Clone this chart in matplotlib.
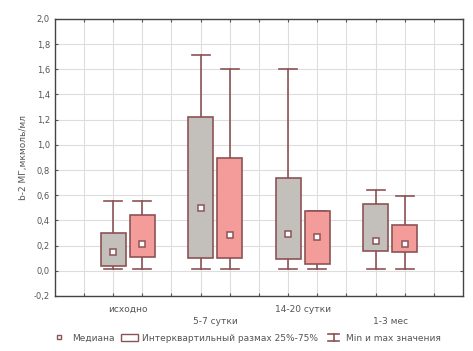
import numpy as np
import matplotlib.pyplot as plt
from matplotlib.lines import Line2D
from matplotlib.patches import Rectangle
from matplotlib.legend_handler import HandlerBase

groups = ['исходно', '5-7 сутки', '14-20 сутки', '1-3 мес']
# two boxes per group: gray then pink
box_min = [0.01, 0.01, 0.01, 0.01, 0.01, 0.01, 0.01, 0.01]
box_q1 = [0.04, 0.11, 0.10, 0.10, 0.09, 0.05, 0.16, 0.15]
box_med = [0.15, 0.215, 0.50, 0.28, 0.29, 0.27, 0.235, 0.215]
box_q3 = [0.30, 0.445, 1.225, 0.895, 0.74, 0.475, 0.53, 0.365]
box_max = [0.55, 0.55, 1.715, 1.60, 1.60, 0.475, 0.64, 0.59]

positions = [2, 3, 5, 6, 8, 9, 11, 12]
face = ['#c3c0bb', '#f49c9a'] * 4
edge = '#8c5356'
txt = '#555555'

fig = plt.figure(figsize=(4.73, 3.51), dpi=100)
ax = fig.add_axes([0.116, 0.157, 0.863, 0.789])

width = 0.85
cap = 0.62
for i, p in enumerate(positions):
    ax.plot([p, p], [box_min[i], box_q1[i]], color=edge, lw=1.2, zorder=2)
    ax.plot([p, p], [box_q3[i], box_max[i]], color=edge, lw=1.2, zorder=2)
    ax.plot([p - cap / 2, p + cap / 2], [box_min[i]] * 2, color=edge, lw=1.2, zorder=2)
    ax.plot([p - cap / 2, p + cap / 2], [box_max[i]] * 2, color=edge, lw=1.2, zorder=2)
    ax.add_patch(Rectangle((p - width / 2, box_q1[i]), width, box_q3[i] - box_q1[i],
                           facecolor=face[i], edgecolor=edge, lw=1.2, zorder=3))
    ax.plot(p, box_med[i], 's', ms=4.2, mfc='white', mec=edge, mew=1.1, zorder=4)

ax.set_xlim(0, 14)
ax.set_ylim(-0.2, 2.0)
ax.set_xticks(np.arange(1, 14))
ax.set_xticklabels([])
ax.set_yticks(np.arange(-0.2, 2.01, 0.2))
ax.set_yticklabels([('%.1f' % v).replace('.', ',').replace('-0,0', '0,0') for v in np.arange(-0.2, 2.01, 0.2)])
ax.grid(True, color='#dddddd', lw=0.8, zorder=0)
ax.set_axisbelow(True)
ax.tick_params(axis='both', labelsize=6, colors=txt, length=2, direction='in',
               top=True, right=True)
for s in ax.spines.values():
    s.set_color('#444444')
    s.set_linewidth(1.0)

ax.set_ylabel('b-2 МГ,мкмоль/мл', fontsize=6.5, color=txt)

# staggered group labels
for k, g in enumerate(groups):
    x = positions[2 * k] + 0.5
    y = -0.275 if k % 2 == 0 else -0.37
    ax.text(x, y, g, ha='center', va='top', fontsize=6.5, color=txt,
            transform=ax.transData)


class WhiskerHandler(HandlerBase):
    def create_artists(self, legend, orig, xd, yd, w, h, fs, trans):
        cx = xd + w / 2
        l1 = Line2D([cx, cx], [yd, yd + h], color=edge, lw=1.2, transform=trans)
        l2 = Line2D([cx - w / 3, cx + w / 3], [yd + h, yd + h], color=edge, lw=1.2, transform=trans)
        l3 = Line2D([cx - w / 3, cx + w / 3], [yd, yd], color=edge, lw=1.2, transform=trans)
        return [l1, l2, l3]


h_med = Line2D([], [], marker='s', ls='none', ms=3.5, mfc='white', mec=edge, mew=1.0)
h_box = Rectangle((0, 0), 1, 1, facecolor='white', edgecolor=edge, lw=1.0)
h_wh = Line2D([], [])
fig.legend([h_med, h_box, h_wh],
           ['Медиана', 'Интерквартильный размах 25%-75%', 'Min и max значения'],
           handler_map={h_wh: WhiskerHandler()},
           loc='center', bbox_to_anchor=(0.52, 0.037), ncol=3, frameon=False,
           fontsize=6.5, labelcolor=txt, handlelength=1.8, handletextpad=0.5,
           columnspacing=0.8)

fig.savefig('out.png', dpi=100)
